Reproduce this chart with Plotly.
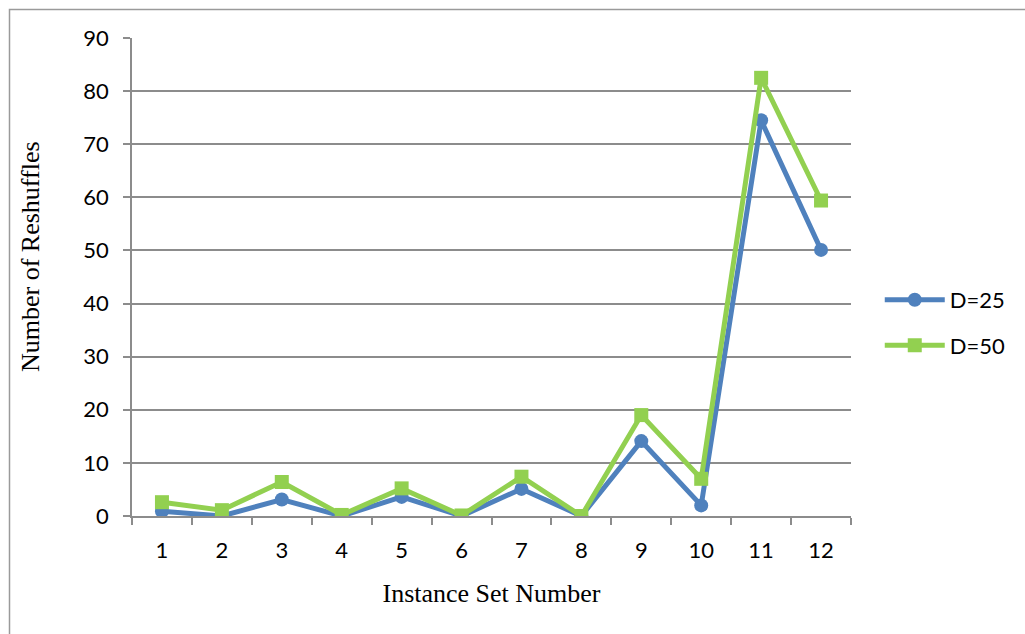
import plotly.graph_objects as go

# Instance sets and reshuffle counts for each deck size
instance_sets = ["1", "2", "3", "4", "5", "6", "7", "8", "9", "10", "11", "12"]
reshuffles_d25 = [0.9, 0, 3.1, 0, 3.6, 0, 5.1, 0, 14.1, 2.0, 74.5, 50.1]
reshuffles_d50 = [2.6, 1.1, 6.4, 0.2, 5.2, 0.1, 7.4, 0, 19.0, 7.0, 82.5, 59.4]

BLUE = "#4F81BD"
GREEN = "#92D050"
GRID = "#8c8c8c"
SERIF = "'Liberation Serif', 'Times New Roman', serif"

fig = go.Figure()
fig.add_trace(go.Scatter(
    x=instance_sets, y=reshuffles_d25, name="D=25", mode="lines+markers",
    legendgroup="d25",
    line=dict(color=BLUE, width=5),
    marker=dict(symbol="circle", size=14, color=BLUE),
))
fig.add_trace(go.Scatter(
    x=instance_sets, y=reshuffles_d50, name="D=50", mode="lines+markers",
    legendgroup="d50",
    line=dict(color=GREEN, width=5),
    marker=dict(symbol="square", size=14, color=GREEN),
))

plot_w = 1025 - 132 - 174
plot_h = 516 - 38

# outer chart border
fig.add_shape(
    type="rect", xref="paper", yref="paper", layer="below",
    x0=(9.5 - 132) / plot_w, x1=(1040 - 132) / plot_w,
    y0=(516 - 650) / plot_h, y1=(516 - 9.5) / plot_h,
    line=dict(color="#9a9a9a", width=1.5), fillcolor="rgba(0,0,0,0)",
)

# vertical axis title
fig.add_annotation(
    text="Number of Reshuffles", textangle=-90, showarrow=False,
    xref="paper", yref="paper",
    x=(30 - 132) / plot_w, y=(516 - 257) / plot_h,
    xanchor="center", yanchor="middle",
    font=dict(family=SERIF, size=26, color="black"),
)

fig.update_layout(
    width=1025, height=634,
    margin=dict(l=132, r=174, t=38, b=118),
    paper_bgcolor="white", plot_bgcolor="white",
    font=dict(family="Lato, 'Open Sans', sans-serif", size=22, color="black"),
    showlegend=True,
    legend=dict(
        x=1.04, y=0.404, xanchor="left", yanchor="middle",
        font=dict(size=22), itemwidth=60,
        traceorder="grouped", tracegroupgap=14,
        bgcolor="rgba(0,0,0,0)",
    ),
    xaxis=dict(
        type="category", showgrid=False,
        showline=True, linecolor=GRID, linewidth=1.5,
        ticks="outside", tickson="boundaries", ticklen=7, tickcolor=GRID,
        tickwidth=1.5, ticklabelstandoff=14,
        title=dict(text="Instance Set Number", standoff=22,
                   font=dict(family=SERIF, size=26)),
        range=[-0.5, 11.5],
    ),
    yaxis=dict(
        range=[0, 90], dtick=10,
        showgrid=True, gridcolor=GRID, gridwidth=1.5,
        showline=True, linecolor=GRID, linewidth=1.5,
        ticks="outside", ticklen=7, tickcolor=GRID, tickwidth=1.5,
        ticklabelstandoff=10,
        zeroline=False,
    ),
)

fig.write_html("out.html")
